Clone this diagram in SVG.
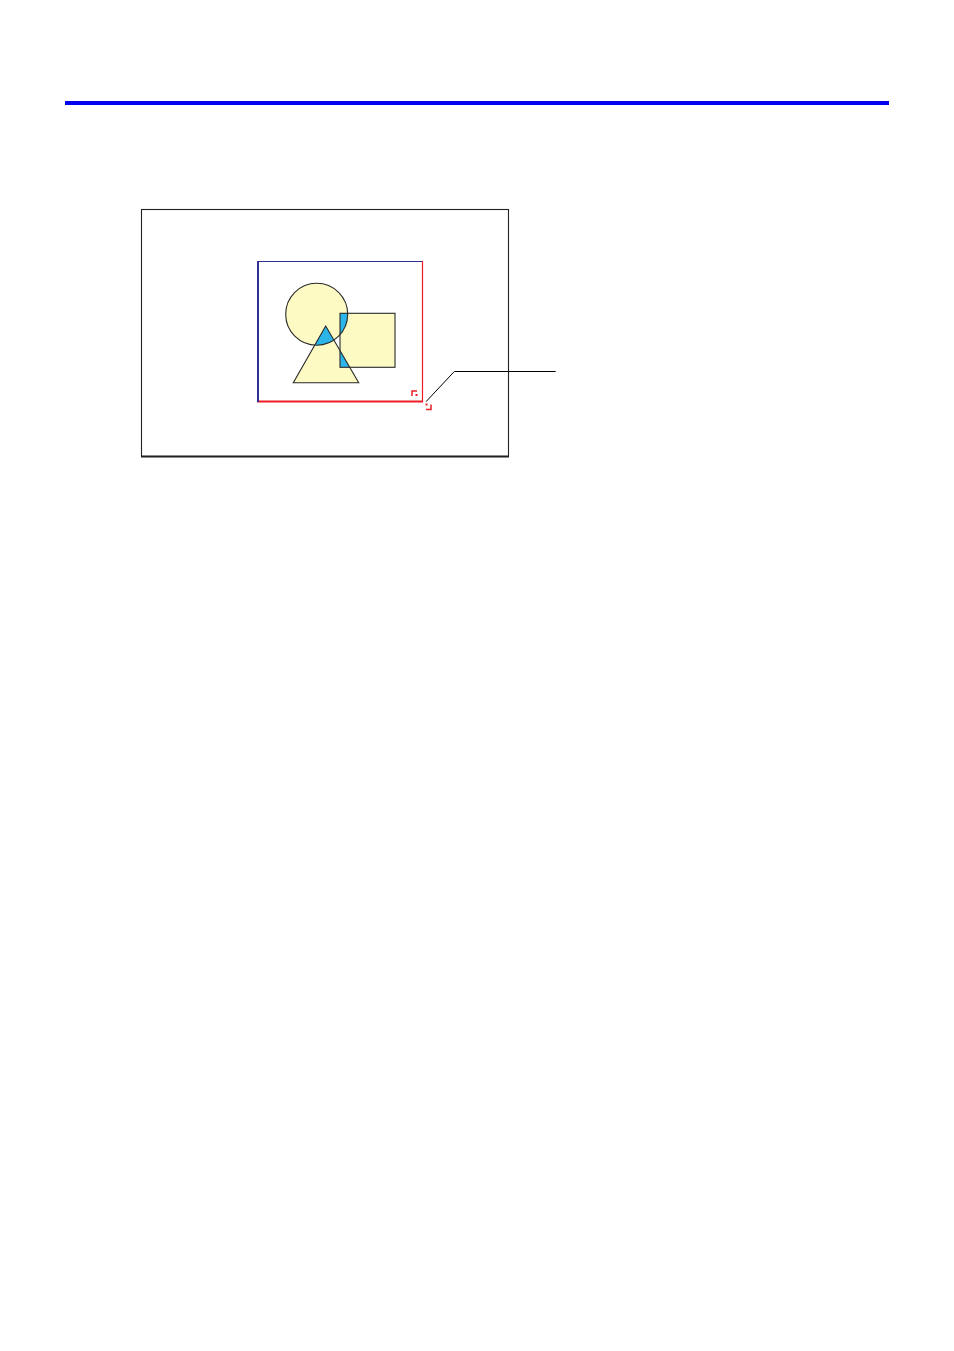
<svg xmlns="http://www.w3.org/2000/svg" width="954" height="1351" viewBox="0 0 954 1351">
<style>
.shape{fill:#fdfac3}
.hit{fill:#2bb5e9}
.edge{fill:none;stroke:#2a2a2a;stroke-width:1.1}
.mark{fill:none;stroke:#ee1c24;stroke-width:1.5}
.lead{fill:none;stroke:#000;stroke-width:1}
</style>
<defs>
<clipPath id="cCircle"><circle cx="316.7" cy="314.3" r="31"/></clipPath>
<clipPath id="cSquare"><rect x="340" y="313.3" width="55" height="54"/></clipPath>
<clipPath id="cTri"><polygon points="325.7,326 293.3,382.7 358.7,382.7"/></clipPath>
</defs>
<rect width="954" height="1351" fill="#fff"/>
<rect id="topbar" x="65" y="101" width="824" height="4" fill="#0000ee"/>
<g id="frame">
<rect x="141.5" y="209.5" width="367" height="247" fill="none" stroke="#222" stroke-width="1.1"/>
<line x1="141" y1="456.5" x2="509" y2="456.5" stroke="#222" stroke-width="1.8"/>
</g>
<g id="selection">
<line x1="258" y1="261.5" x2="422.5" y2="261.5" stroke="#2e3192" stroke-width="1"/>
<line x1="422.5" y1="261" x2="422.5" y2="402" stroke="#ee1c24" stroke-width="1.2"/>
<line x1="257" y1="401.5" x2="423" y2="401.5" stroke="#ee1c24" stroke-width="2"/>
<line x1="258" y1="261" x2="258" y2="402" stroke="#2e3192" stroke-width="2"/>
</g>
<g id="shapes">
<circle class="shape" cx="316.7" cy="314.3" r="31"/>
<rect class="shape" x="340" y="313.3" width="55" height="54"/>
<polygon class="shape" points="325.7,326 293.3,382.7 358.7,382.7"/>
<g clip-path="url(#cCircle)"><rect class="hit" x="340" y="313.3" width="55" height="54"/></g>
<g clip-path="url(#cCircle)"><polygon class="hit" points="325.7,326 293.3,382.7 358.7,382.7"/></g>
<g clip-path="url(#cSquare)"><polygon class="hit" points="325.7,326 293.3,382.7 358.7,382.7"/></g>
<rect class="edge" x="340" y="313.3" width="55" height="54" stroke="#555"/>
<circle class="edge" cx="316.7" cy="314.3" r="31"/>
<polygon class="edge" points="325.7,326 293.3,382.7 358.7,382.7"/>
</g>
<g id="handles">
<path class="mark" d="M412,396 V391 H417"/>
<rect x="415.5" y="394" width="2" height="2" fill="#ee1c24"/>
<path class="mark" d="M426,409.5 H431 V404.5"/>
<rect x="425.5" y="403.5" width="2" height="2" fill="#ee1c24"/>
</g>
<g id="connectors">
<polyline class="lead" points="426,401.7 454.3,371.5 555.7,371.5"/>
</g>
</svg>
